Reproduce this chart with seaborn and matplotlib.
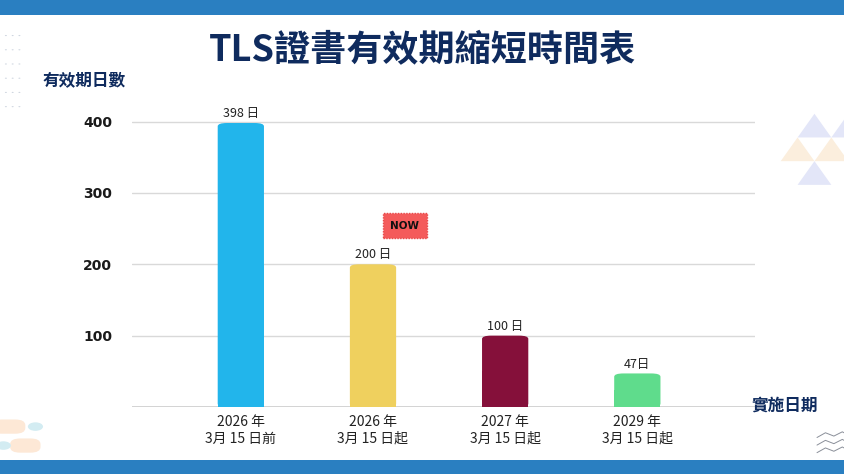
import matplotlib
matplotlib.use("Agg")
import matplotlib.pyplot as plt
import seaborn as sns
import pandas as pd
from matplotlib.patches import FancyBboxPatch, Rectangle, Polygon
from matplotlib.lines import Line2D

# data
periods = ["2026 年\n3月 15 日前", "2026 年\n3月 15 日起", "2027 年\n3月 15 日起", "2029 年\n3月 15 日起"]
days = [398, 200, 100, 47]
day_labels = ["398 日", "200 日", "100 日", "47日"]
bar_colors = ["#22b5eb", "#efd05e", "#85103a", "#5fdc8c"]
y_ticks = [100, 200, 300, 400]

navy = "#0f2b5e"

sns.set_theme(style="white")
plt.rcParams["font.family"] = ["Noto Sans CJK TC", "DejaVu Sans"]

df = pd.DataFrame({"period": periods, "days": days})

fig = plt.figure(figsize=(8.44, 4.74), dpi=100)
ax = fig.add_axes([0.156, 0.1414, 0.7385, 0.6322])

sns.barplot(data=df, x="period", y="days", hue="period", palette=bar_colors,
            width=0.35, legend=False, ax=ax, saturation=1)

# swap plain bars for rounded-top ones
for p, col in zip(list(ax.patches), bar_colors):
    x0, y0, w, h = p.get_x(), p.get_y(), p.get_width(), p.get_height()
    p.set_visible(False)
    ax.add_patch(Rectangle((x0, y0), w, h * 0.5, fc=col, ec="none", zorder=3))
    ax.add_patch(FancyBboxPatch((x0, y0), w, h,
                                boxstyle="round,pad=0,rounding_size=0.07",
                                mutation_aspect=65, fc=col, ec="none", zorder=3))

for i, (v, lab) in enumerate(zip(days, day_labels)):
    ax.text(i, v + 4, lab, ha="center", va="bottom", fontsize=9, color="#222222")

ax.set_xlim(-0.826, 3.89)
ax.set_ylim(0, 420)
ax.set_yticks(y_ticks)
ax.set_yticklabels([str(t) for t in y_ticks], fontweight="bold", fontsize=10,
                   color="#1a1a1a", family=["DejaVu Sans"])
ax.tick_params(axis="y", length=0, pad=14)
ax.tick_params(axis="x", length=0, pad=6, labelsize=10, labelcolor="#222222")
ax.set_xlabel("")
ax.set_ylabel("")
ax.grid(axis="y", color="#d9d9d9", lw=1)
ax.axhline(0, color="#cccccc", lw=1.2, zorder=2)
for s in ax.spines.values():
    s.set_visible(False)
ax.set_axisbelow(True)

# NOW badge
ax.text(1.24, 254, "NOW", ha="center", va="center", fontsize=7.5, fontweight="bold",
        color="#111111", family=["DejaVu Sans"],
        bbox=dict(boxstyle="square,pad=0.7", fc="#f45b5b", ec="#e84a4a", ls=(0, (1, 1)), lw=1))

# titles and axis names
fig.text(0.5, 0.893, "TLS證書有效期縮短時間表", ha="center", va="center",
         fontsize=26, fontweight="heavy", color=navy)
fig.text(0.05, 0.83, "有效期日數", ha="left", va="center", fontsize=12,
         fontweight="heavy", color=navy)
fig.text(0.93, 0.145, "實施日期", ha="center", va="center", fontsize=12,
         fontweight="heavy", color=navy)

# blue bands
fig.patches.append(Rectangle((0, 0.968), 1, 0.032, transform=fig.transFigure,
                             fc="#2a7fc1", ec="none"))
fig.patches.append(Rectangle((0, 0), 1, 0.03, transform=fig.transFigure,
                             fc="#2a7fc1", ec="none"))

# decorations: dot grid top-left
for i in range(6):
    for j in range(3):
        fig.patches.append(plt.Circle((0.007 + j * 0.008, 0.925 - i * 0.03), 0.0012,
                                      transform=fig.transFigure, fc="#cfd6e0", ec="none"))

# triangles right side
tri = [((0.965, 0.76), (0.985, 0.71), (0.945, 0.71), "#e3e6f8"),
       ((0.945, 0.71), (0.925, 0.66), (0.965, 0.66), "#fbeedd"),
       ((0.985, 0.71), (0.965, 0.66), (1.005, 0.66), "#fbeedd"),
       ((0.965, 0.66), (0.985, 0.61), (0.945, 0.61), "#e3e6f8"),
       ((1.005, 0.76), (1.025, 0.71), (0.985, 0.71), "#e3e6f8")]
for a, b, c, col in tri:
    fig.patches.append(Polygon([a, b, c], closed=True, transform=fig.transFigure,
                               fc=col, ec="none"))

# pills bottom-left
fig.patches.append(FancyBboxPatch((-0.01, 0.085), 0.04, 0.03, boxstyle="round,pad=0,rounding_size=0.012",
                                  transform=fig.transFigure, fc="#fde8d6", ec="none"))
fig.patches.append(FancyBboxPatch((0.012, 0.045), 0.036, 0.03, boxstyle="round,pad=0,rounding_size=0.012",
                                  transform=fig.transFigure, fc="#fde8d6", ec="none"))
fig.patches.append(plt.Circle((0.042, 0.1), 0.009, transform=fig.transFigure, fc="#d3ecf2", ec="none"))
fig.patches.append(plt.Circle((0.004, 0.06), 0.009, transform=fig.transFigure, fc="#d3ecf2", ec="none"))

# wavy lines bottom-right
for k in range(3):
    yb = 0.045 + k * 0.016
    fig.lines.append(Line2D([0.968, 0.978, 0.988, 0.998, 1.0],
                            [yb, yb + 0.01, yb + 0.003, yb + 0.012, yb + 0.01],
                            transform=fig.transFigure, color="#8a8f99", lw=0.7))

fig.savefig("out.png", dpi=100)
